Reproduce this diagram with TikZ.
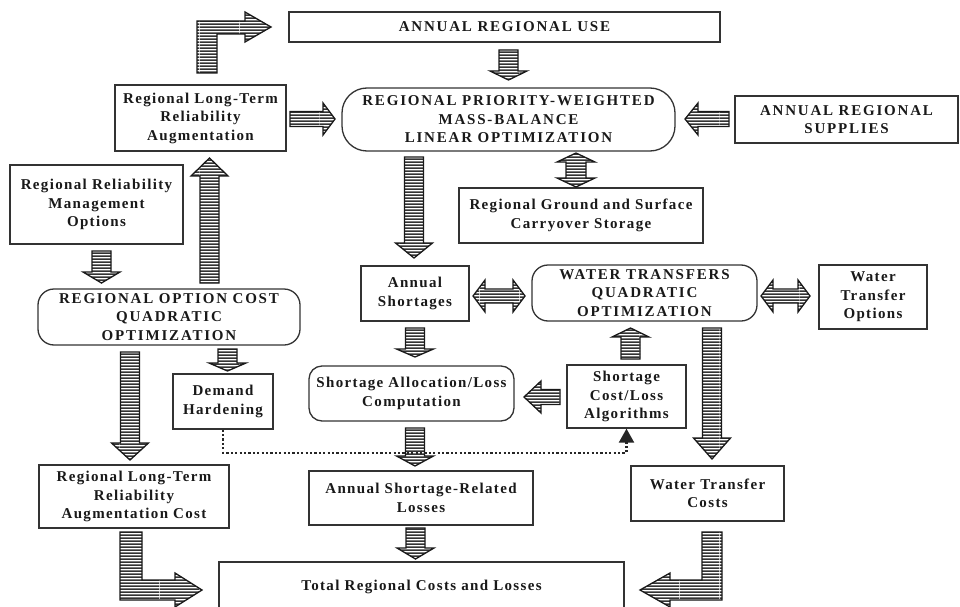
\documentclass[tikz,border=0pt]{standalone}
\usepackage{fontspec}
\setmainfont{Liberation Serif}
\newfontfamily\mixf{Liberation Serif}[LetterSpace=9]
\newfontfamily\capf{Liberation Serif}[LetterSpace=12]
\usetikzlibrary{patterns,arrows.meta}
\pgfdeclarepatternformonly{hstripes}{\pgfpointorigin}{\pgfqpoint{40pt}{3.2pt}}{\pgfqpoint{40pt}{3.2pt}}{\pgfpathrectangle{\pgfpointorigin}{\pgfqpoint{40pt}{2pt}}\pgfusepath{fill}}
\tikzset{
  blk/.style={draw=black!90, line width=1.3pt, pattern=hstripes, pattern color=black!80, line join=miter},
  box/.style={draw=black!80, line width=1.3pt, align=center, inner sep=0pt, text=black!90,
     font=\mixf\bfseries\fontsize{15}{18.5}\selectfont},
  capbox/.style={box, font=\capf\bfseries\fontsize{15}{18.5}\selectfont},
  rbox/.style={rounded corners=#1},
  dotline/.style={draw=black!85, line width=2.2pt, dash pattern=on 2.2pt off 2.2pt}
}
\newcommand\ArrDown[4]{\path[blk] ({#1-9.5},#2) -- ({#1+9.5},#2) -- ({#1+9.5},{#3-#4}) -- ({#1+18.5},{#3-#4}) -- (#1,#3) -- ({#1-18.5},{#3-#4}) -- ({#1-9.5},{#3-#4}) -- cycle;}
\newcommand\ArrUp[4]{\path[blk] ({#1-9.5},#2) -- ({#1-9.5},{#3+#4}) -- ({#1-18.5},{#3+#4}) -- (#1,#3) -- ({#1+18.5},{#3+#4}) -- ({#1+9.5},{#3+#4}) -- ({#1+9.5},#2) -- cycle;}
\newcommand\ArrRight[4]{\path[blk] (#2,{#1-7.5}) -- ({#3-#4},{#1-7.5}) -- ({#3-#4},{#1-16}) -- (#3,#1) -- ({#3-#4},{#1+16}) -- ({#3-#4},{#1+7.5}) -- (#2,{#1+7.5}) -- cycle;}
\newcommand\ArrLeft[4]{\path[blk] (#2,{#1-7.5}) -- ({#3+#4},{#1-7.5}) -- ({#3+#4},{#1-16}) -- (#3,#1) -- ({#3+#4},{#1+16}) -- ({#3+#4},{#1+7.5}) -- (#2,{#1+7.5}) -- cycle;}
\newcommand\ArrUD[4]{\path[blk] (#1,#2) -- ({#1+19},{#2+#4}) -- ({#1+10},{#2+#4}) -- ({#1+10},{#3-#4}) -- ({#1+19},{#3-#4}) -- (#1,#3) -- ({#1-19},{#3-#4}) -- ({#1-10},{#3-#4}) -- ({#1-10},{#2+#4}) -- ({#1-19},{#2+#4}) -- cycle;}
\newcommand\ArrLR[4]{\path[blk] (#2,#1) -- ({#2+#4},{#1-16}) -- ({#2+#4},{#1-7}) -- ({#3-#4},{#1-7}) -- ({#3-#4},{#1-16}) -- (#3,#1) -- ({#3-#4},{#1+16}) -- ({#3-#4},{#1+7}) -- ({#2+#4},{#1+7}) -- ({#2+#4},{#1+16}) -- cycle;}
\begin{document}
\begin{tikzpicture}[x=1pt,y=-1pt]
\useasboundingbox[fill=white] (0,0) rectangle (960,607);

% nodes
\node[capbox, minimum width=431pt, minimum height=30pt] (use) at (504.5,27) {ANNUAL REGIONAL USE};
\node[box, minimum width=171pt, minimum height=66pt] (ltr) at (200.5,118) {Regional Long-Term\\Reliability\\Augmentation};
\node[capbox, rbox=25pt, minimum width=333pt, minimum height=63pt] (prio) at (508.5,119.5) {REGIONAL PRIORITY-WEIGHTED\\MASS-BALANCE\\LINEAR OPTIMIZATION};
\node[capbox, minimum width=223pt, minimum height=47pt] (supp) at (846.5,119.5) {ANNUAL REGIONAL\\SUPPLIES};
\node[box, minimum width=244pt, minimum height=55pt] (stor) at (581,215.5) {Regional Ground and Surface\\Carryover Storage};
\node[box, minimum width=173pt, minimum height=79pt] (rrmo) at (96.5,204.5) {Regional Reliability\\Management\\Options};
\node[capbox, rbox=16pt, minimum width=262pt, minimum height=56pt] (ocost) at (169,317) {REGIONAL OPTION COST\\QUADRATIC\\OPTIMIZATION};
\node[box, minimum width=108pt, minimum height=55pt] (ashort) at (415,293.5) {Annual\\Shortages};
\node[capbox, rbox=16pt, minimum width=225pt, minimum height=56pt] (wt) at (644.5,293) {WATER TRANSFERS\\QUADRATIC\\OPTIMIZATION};
\node[box, minimum width=108pt, minimum height=64pt] (wto) at (873,297) {Water\\Transfer\\Options};
\node[box, minimum width=100pt, minimum height=55pt] (dh) at (223,401.5) {Demand\\Hardening};
\node[box, rbox=13pt, minimum width=205pt, minimum height=55pt] (sal) at (411.5,393.5) {Shortage Allocation/Loss\\Computation};
\node[box, minimum width=119pt, minimum height=63pt] (scl) at (626.5,396.5) {Shortage\\Cost/Loss\\Algorithms};
\node[box, minimum width=153pt, minimum height=55pt] (wtc) at (707.5,493.5) {Water Transfer\\Costs};
\node[box, minimum width=224pt, minimum height=54pt] (asrl) at (421,498) {Annual Shortage-Related\\Losses};
\node[box, minimum width=190pt, minimum height=63pt] (ltrc) at (134,496.5) {Regional Long-Term\\Reliability\\Augmentation Cost};
\node[box, draw=none] (total) at (421.5,587) {Total Regional Costs and Losses};
\draw[draw=black!80, line width=1.3pt] (219,608) -- (219,562) -- (624,562) -- (624,608);

% block arrows
\path[blk] (197,73) -- (197,21) -- (245,21) -- (245,12) -- (271,27) -- (245,42) -- (245,34) -- (217,34) -- (217,73) -- cycle;
\ArrDown{508.5}{50}{80}{9}
\ArrRight{119}{290}{335}{12}
\ArrLeft{119}{729}{685}{13}
\ArrUD{576}{153}{187}{9}
\ArrUp{209.5}{283}{158}{18}
\ArrDown{101.5}{251}{283}{11}
\ArrDown{414}{157}{258}{15}
\ArrLR{296}{473}{525}{12}
\ArrLR{296}{761}{810}{12}
\ArrDown{130}{352}{460}{17}
\ArrDown{227.5}{349}{371}{8}
\ArrDown{415}{328}{357}{8}
\ArrLeft{397}{560}{524}{17}
\ArrUp{630.5}{359}{328}{9}
\ArrDown{712}{328}{459}{21}
\ArrDown{415}{428}{466}{10}
\ArrDown{415.5}{528}{559}{11}
\path[blk] (120,532) -- (142,532) -- (142,580) -- (175,580) -- (175,573) -- (202,590) -- (175,607) -- (175,600) -- (120,600) -- cycle;
\path[blk] (702,532) -- (722,532) -- (722,600) -- (670,600) -- (670,607) -- (640,590) -- (670,573) -- (670,580) -- (702,580) -- cycle;

% dotted connector
\draw[dotline, -{Triangle[width=15pt,length=14pt]}] (dh.south) -- ++(0,23) -| (scl.south);
\end{tikzpicture}
\end{document}
